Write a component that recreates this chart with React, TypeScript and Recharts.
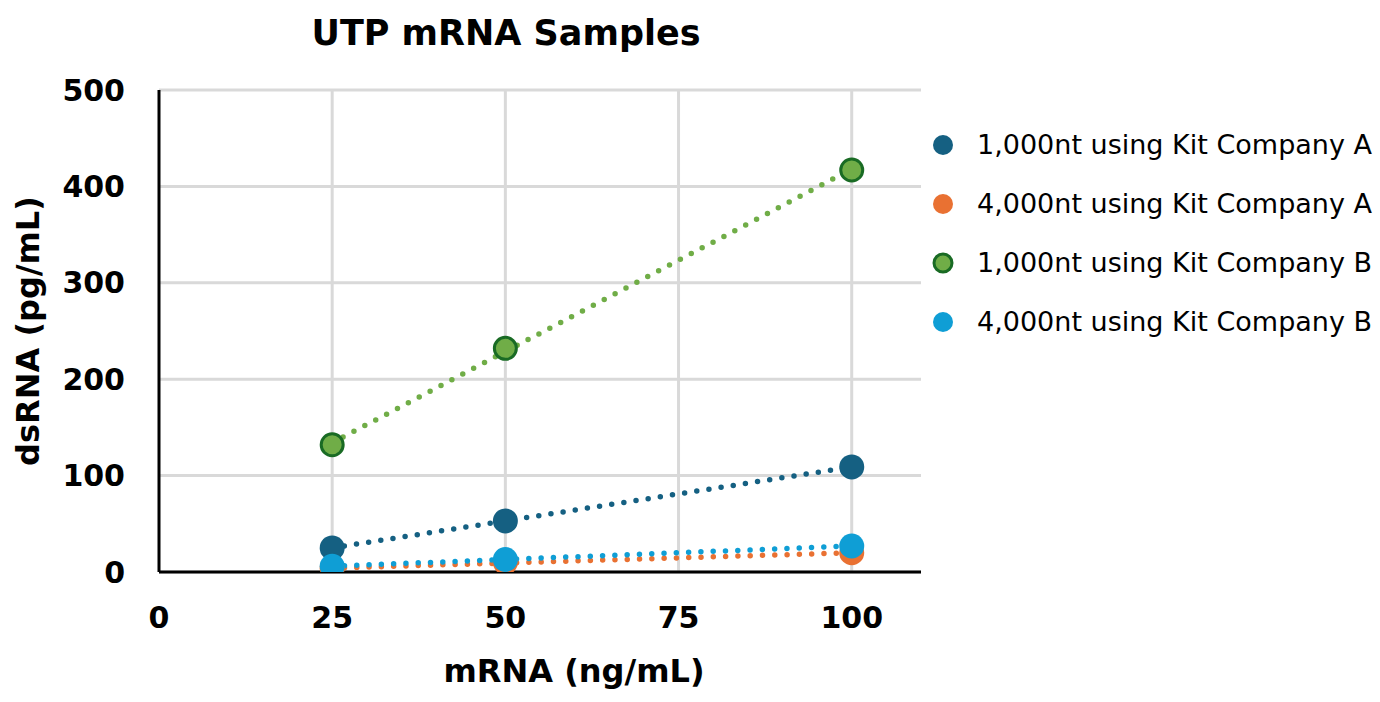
import React from 'react';
import { ScatterChart, Scatter, XAxis, YAxis, CartesianGrid } from 'recharts';

const xValues = [25, 50, 100];
const kitA1000 = [25, 53, 109];
const kitA4000 = [4, 10, 20];
const kitB1000 = [132, 232, 417];
const kitB4000 = [6, 13, 27];

const trendX = [25, 100];
const trendA1000 = [25, 109];
const trendA4000 = [4, 20];
const trendB1000 = [134, 418];
const trendB4000 = [6, 27];

const xTicks = [0, 25, 50, 75, 100];
const yTicks = [0, 100, 200, 300, 400, 500];

const seriesNames = [
  '1,000nt using Kit Company A',
  '4,000nt using Kit Company A',
  '1,000nt using Kit Company B',
  '4,000nt using Kit Company B',
];
const fills = ['#156082', '#E97132', '#70AD47', '#0F9ED5'];
const strokes = ['#156082', '#E97132', '#196B24', '#0F9ED5'];

const toPoints = (xs: number[], ys: number[]) => xs.map((x, i) => ({ x, y: ys[i] }));

const seriesData = [kitA1000, kitA4000, kitB1000, kitB4000].map((ys) => toPoints(xValues, ys));
const trendData = [trendA1000, trendA4000, trendB1000, trendB4000].map((ys) => toPoints(trendX, ys));

const FONT = '"DejaVu Sans", Verdana, sans-serif';

const makeMarker = (i: number) => (p: any) => (
  <circle
    cx={p.cx}
    cy={p.cy}
    r={i === 2 ? 11 : 12.5}
    fill={fills[i]}
    stroke={strokes[i]}
    strokeWidth={i === 2 ? 3 : 0}
  />
);

const LegendBlock = () => (
  <div
    style={{
      position: 'absolute',
      left: 930,
      top: 115,
      fontFamily: FONT,
      fontSize: 27,
      color: '#000',
    }}
  >
    {seriesNames.map((n, i) => (
      <div key={n} style={{ height: 59, display: 'flex', alignItems: 'center', whiteSpace: 'nowrap' }}>
        <svg width={26} height={26} style={{ flex: 'none' }}>
          <circle
            cx={13}
            cy={13}
            r={i === 2 ? 9 : 10}
            fill={fills[i]}
            stroke={strokes[i]}
            strokeWidth={i === 2 ? 3 : 0}
          />
        </svg>
        <span style={{ marginLeft: 21 }}>{n}</span>
      </div>
    ))}
  </div>
);

export default function App() {
  return (
    <div style={{ position: 'absolute', left: 0, top: 0, width: 1380, height: 702, background: '#fff' }}>
      <div
        style={{
          position: 'absolute',
          left: 0,
          top: 16,
          width: 1012,
          textAlign: 'center',
          fontFamily: FONT,
          fontWeight: 'bold',
          fontSize: 35,
          lineHeight: '35px',
          color: '#000',
        }}
      >
        UTP mRNA Samples
      </div>
      <ScatterChart width={1380} height={702} margin={{ top: 90, right: 459, bottom: 0, left: 0 }}>
        <CartesianGrid stroke="#d9d9d9" strokeWidth={3} horizontalValues={yTicks} verticalValues={[25, 50, 75, 100]} />
        <XAxis
          type="number"
          dataKey="x"
          domain={[0, 110]}
          ticks={xTicks}
          allowDataOverflow
          height={130}
          axisLine={{ stroke: '#000', strokeWidth: 3 }}
          tickLine={false}
          tickSize={0}
          tickMargin={35}
          tick={{ fontFamily: FONT, fontWeight: 'bold', fontSize: 30, fill: '#000' }}
          label={{
            value: 'mRNA (ng/mL)',
            position: 'insideBottom',
            offset: 20,
            dx: 34,
            style: { fontFamily: FONT, fontWeight: 'bold', fontSize: 32, fill: '#000' },
          }}
        />
        <YAxis
          type="number"
          dataKey="y"
          domain={[0, 500]}
          ticks={yTicks}
          allowDataOverflow
          width={159}
          axisLine={{ stroke: '#000', strokeWidth: 3 }}
          tickLine={false}
          tickSize={0}
          tickMargin={34}
          tick={{ fontFamily: FONT, fontWeight: 'bold', fontSize: 30, fill: '#000' }}
          label={{
            value: 'dsRNA (pg/mL)',
            angle: -90,
            position: 'insideLeft',
            offset: 28,
            style: { textAnchor: 'middle', fontFamily: FONT, fontWeight: 'bold', fontSize: 32, fill: '#000' },
          }}
        />
        {trendData.map((d, i) => (
          <Scatter
            key={'t' + i}
            data={d}
            isAnimationActive={false}
            legendType="none"
            line={{ stroke: fills[i], strokeWidth: 5.5, strokeDasharray: '0 12.3', strokeLinecap: 'round' }}
            shape={() => <g />}
          />
        ))}
        {seriesData.map((d, i) => (
          <Scatter
            key={'s' + i}
            name={seriesNames[i]}
            data={d}
            fill={fills[i]}
            isAnimationActive={false}
            shape={makeMarker(i)}
          />
        ))}
      </ScatterChart>
      <LegendBlock />
    </div>
  );
}
